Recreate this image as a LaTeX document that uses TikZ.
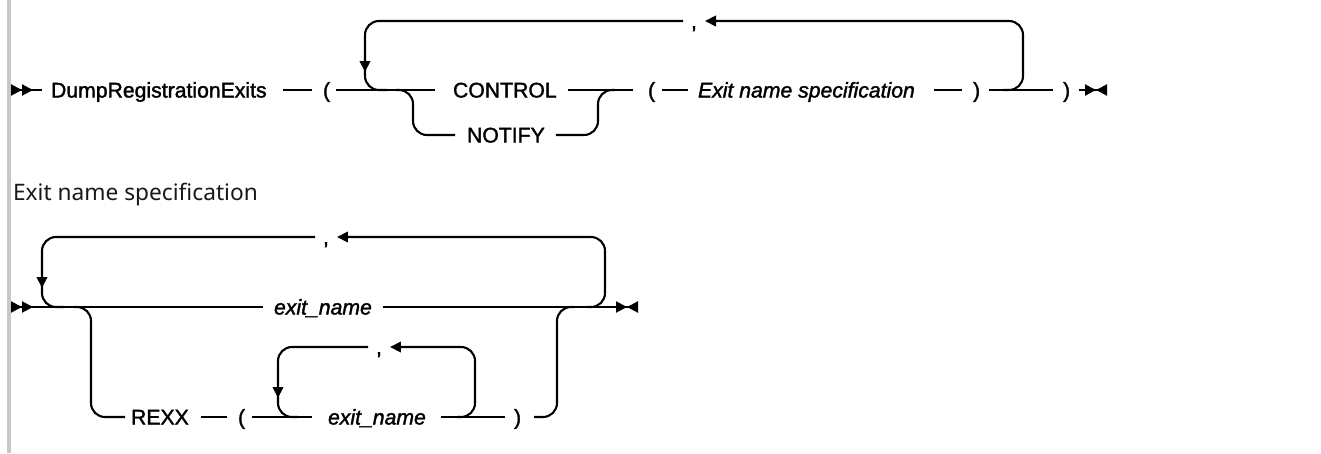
\documentclass[tikz,border=0pt]{standalone}
\usepackage{fontspec}
\setmainfont{Liberation Sans}
\newfontfamily\railfont{Liberation Sans}[FakeBold=1.6]
\newfontfamily\headfont{Noto Sans}
\usetikzlibrary{arrows.meta}

\newcommand*{\rowa}{90}
\newcommand*{\loopa}{21}
\newcommand*{\alta}{135}
\newcommand*{\rowb}{307}
\newcommand*{\loopb}{237}
\newcommand*{\altb}{417}
\newcommand*{\loopc}{347}

\begin{document}
\begin{tikzpicture}
[
	x=1pt, y=-1pt,
	line width=2.1pt,
	tok/.style={inner sep=0pt, anchor=west, text height=15pt, text depth=0pt, font=\railfont\fontsize{21.2}{25}\selectfont},
	var/.style={tok, font=\railfont\fontsize{21.2}{25}\selectfont\itshape},
	curvy/.style={rounded corners=14pt},
	backarrow/.style={-{Triangle[length=11pt,width=10.5pt]}},
	startmark/.style={{Triangle[reversed,length=11pt,width=11pt]Triangle[reversed,length=11pt,width=11pt]}-},
	endmark/.style={-{Triangle[length=11pt,width=11pt]Triangle[reversed,length=11pt,width=11pt]}}
]

	% frame
	\useasboundingbox (0,0) rectangle (1321,453);
	\fill[black!22] (7,0) rectangle (11,453);

	% first diagram
	\coordinate (a0) at (11,\rowa);
	\node[tok] (dre) at (50,\rowa) {DumpRegistrationExits};
	\node[tok] (lpa) at (322,\rowa) {(};
	\node[tok] (ctl) at (452,\rowa) {CONTROL};
	\node[tok] (ntf) at (466,\alta) {NOTIFY};
	\node[tok] (lpb) at (647,\rowa) {(};
	\node[var] (ens) at (697,\rowa) {Exit name specification};
	\node[tok] (rpa) at (972,\rowa) {)};
	\node[tok] (rpb) at (1062,\rowa) {)};
	\node[tok] (cma) at (690,\loopa) {,};
	\coordinate (a9) at (1107,\rowa);

	\draw[startmark] (a0) -- ([xshift=-8]dre.west);
	\draw ([xshift=15]dre.east) -- ([xshift=-10]lpa.west);
	\draw ([xshift=5]lpa.east) -- ([xshift=-17]ctl.west);
	\draw ([xshift=10]ctl.east) -- ([xshift=-14]lpb.west);
	\draw[curvy] (396,\rowa) -- (413,\rowa) -- (413,\alta) -- ([xshift=-11]ntf.west);
	\draw[curvy] ([xshift=10]ntf.east) -- (598,\alta) -- (598,\rowa) -- (615,\rowa);
	\draw ([xshift=6]lpb.east) -- ([xshift=-9]ens.west);
	\draw ([xshift=18]ens.east) -- ([xshift=-10]rpa.west);
	\draw ([xshift=8]rpa.east) -- ([xshift=-9]rpb.west);
	\draw[endmark] ([xshift=8]rpb.east) -- (a9);

	% repeat loop
	\draw[curvy, backarrow] (1003,\rowa) -- (1023,\rowa) -- (1023,\loopa) -- ([xshift=7]cma.east);
	\draw[curvy, backarrow] ([xshift=-7]cma.west) -- (365,\loopa) -- (365,72);
	\draw[curvy] (365,64) -- (365,\rowa) -- (387,\rowa);

	% heading
	\node[inner sep=0pt, anchor=base west, font=\headfont\fontsize{22.7}{27}\selectfont, text=black!90] (head) at (12,200) {Exit name specification};

	% second diagram
	\coordinate (b0) at (11,\rowb);
	\node[var] (ena) at (273,\rowb) {exit\_name};
	\node[tok] (cmb) at (322,\loopb) {,};
	\node[tok] (rexx) at (130,\altb) {REXX};
	\node[tok] (lpc) at (237,\altb) {(};
	\node[var] (enb) at (327,\altb) {exit\_name};
	\node[tok] (cmc) at (375,\loopc) {,};
	\node[tok] (rpc) at (513,\altb) {)};
	\coordinate (b9) at (638,\rowb);

	\draw[startmark] (b0) -- ([xshift=-10]ena.west);
	\draw[endmark] ([xshift=10]ena.east) -- (b9);
	\draw[curvy] (74,\rowb) -- (91,\rowb) -- (91,\altb) -- ([xshift=-5]rexx.west);
	\draw ([xshift=11]rexx.east) -- ([xshift=-10]lpc.west);
	\draw ([xshift=6]lpc.east) -- ([xshift=-15]enb.west);
	\draw ([xshift=14]enb.east) -- ([xshift=-8]rpc.west);
	\draw[curvy] ([xshift=12]rpc.east) -- (557,\altb) -- (557,\rowb) -- (574,\rowb);

	% outer loop
	\draw[curvy, backarrow] (587,\rowb) -- (605,\rowb) -- (605,\loopb) -- ([xshift=7]cmb.east);
	\draw[curvy, backarrow] ([xshift=-7]cmb.west) -- (42,\loopb) -- (42,288);
	\draw[curvy] (42,280) -- (42,\rowb) -- (64,\rowb);

	% inner loop
	\draw[curvy, backarrow] (457,\altb) -- (475,\altb) -- (475,\loopc) -- ([xshift=7]cmc.east);
	\draw[curvy, backarrow] ([xshift=-7]cmc.west) -- (278,\loopc) -- (278,398);
	\draw[curvy] (278,390) -- (278,\altb) -- (298,\altb);

\end{tikzpicture}
\end{document}
